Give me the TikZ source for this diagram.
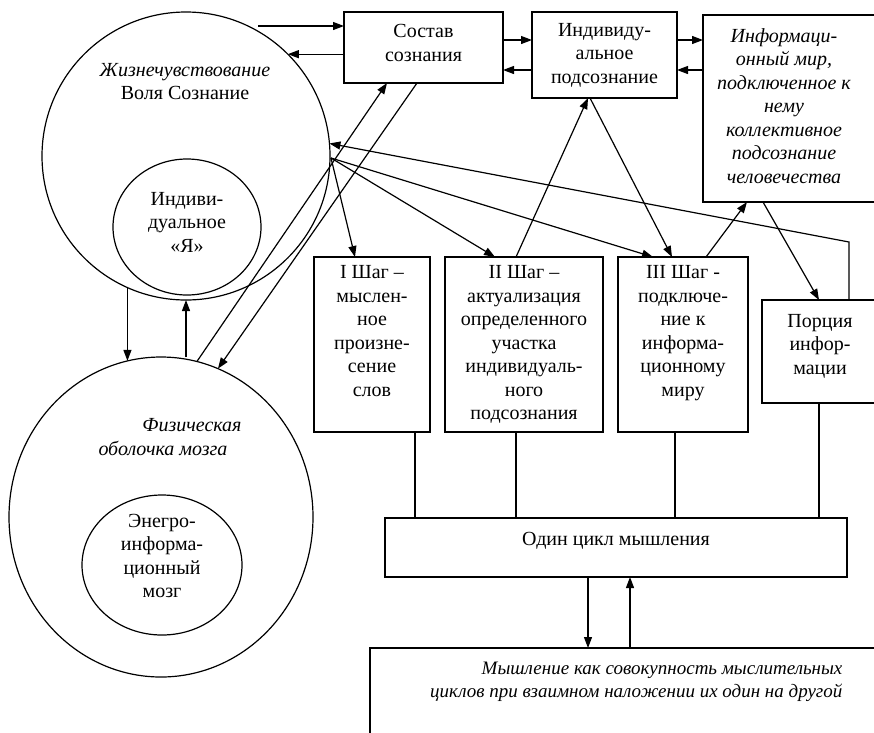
\documentclass[tikz,border=0pt]{standalone}
\usepackage{fontspec}
\setmainfont{Liberation Serif}
\usetikzlibrary{arrows.meta,shapes.geometric}
\begin{document}
\begin{tikzpicture}[x=1pt,y=-1pt,
  line width=1.2pt,
  arr/.style={-{Triangle[length=11pt,width=8pt]}},
  box/.style={draw, rectangle, inner sep=0pt, outer sep=0pt},
  txt/.style={font=\fontsize{20}{23.5}\selectfont, align=center, inner sep=0pt},
  itxt/.style={txt, font=\fontsize{20}{23.5}\selectfont\itshape},
  ring/.style={draw, inner sep=0pt, outer sep=0pt}
]
\useasboundingbox (0,0) rectangle (874,732);
\clip (0,0) rectangle (874,732);

% circles
\node[ring, circle, minimum size=288pt] (c1) at (186,156) {};
\node[ring, ellipse, minimum width=148pt, minimum height=136pt] (c1i) at (187,227) {};
\node[ring, ellipse, minimum width=304pt, minimum height=320pt] (c2) at (161,517) {};
\node[ring, ellipse, minimum width=160pt, minimum height=140pt] (c2i) at (162,565) {};

\node[txt] (t1) at (185,81.5) {\textit{Жизнечувствование}\\Воля Сознание};
\node[txt] (t2) at (187,222) {Индиви-\\дуальное\\«Я»};
\node[itxt] (t3) at (192,425) {Физическая};
\node[itxt] (t4) at (163,448) {оболочка мозга};
\node[txt] (t5) at (162,556) {Энегро-\\информа-\\ционный\\мозг};

% boxes
\node[box, minimum width=159pt, minimum height=71pt] (sostav) at (423.5,47.5) {};
\node[txt] (sostavt) at (423.5,43) {Состав\\сознания};
\node[box, txt, minimum width=145pt, minimum height=86pt] (indiv) at (604.5,55) {Индивиду-\\альное\\подсознание};
\node[box, minimum width=187pt, minimum height=187pt] (inform) at (796.5,108.5) {};
\node[itxt] (informt) at (784,106) {Информаци-\\онный мир,\\подключенное к\\нему\\коллективное\\подсознание\\человечества};

\node[box, minimum width=116pt, minimum height=175pt] (step1) at (372,344.5) {};
\node[txt, anchor=north] (step1t) at (372,265) {I Шаг –\\мыслен-\\ное\\произне-\\сение\\слов};
\node[box, minimum width=158pt, minimum height=175pt] (step2) at (524,344.5) {};
\node[txt, anchor=north] (step2t) at (524,265) {II Шаг –\\актуализация\\определенного\\участка\\индивидуаль-\\ного\\подсознания};
\node[box, minimum width=130pt, minimum height=175pt] (step3) at (683,344.5) {};
\node[txt, anchor=north] (step3t) at (683,265) {III Шаг -\\подключе-\\ние к\\информа-\\ционному\\миру};
\node[box, minimum width=128pt, minimum height=103pt] (portion) at (826,351.5) {};
\node[txt] (portiont) at (820,346) {Порция\\инфор-\\мации};

\node[box, minimum width=462pt, minimum height=59pt] (cycle) at (616,547.5) {};
\node[txt] (cyclet) at (616,541) {Один цикл мышления};

\node[box, minimum width=520pt, minimum height=112pt] (think) at (630,704) {};
\node[itxt, font=\fontsize{19}{23}\selectfont\itshape, align=right, anchor=east] (thinkt) at (843,681.5) {Мышление как совокупность мыслительных\\циклов при взаимном наложении их один на другой};

% connectors
\coordinate (a1) at (258,26);
\draw[arr] (a1) -- (a1 -| sostav.west);
\draw[arr] (sostav.west |- c1.45) -- (c1.45);
\draw[arr] (sostav.east |- 0,40) -- (indiv.west |- 0,40);
\draw[arr] (indiv.west |- 0,70) -- (sostav.east |- 0,70);
\draw[arr] (indiv.east |- 0,40) -- (inform.west |- 0,40);
\draw[arr] (inform.west |- 0,70) -- (indiv.east |- 0,70);

\coordinate (hub) at (331,158);
\draw[arr] (hub) -- (step1.north -| 355,0);
\draw[arr] (hub) -- (step2.north -| 495,0);
\draw[arr] (hub) -- (step3.north -| 653,0);
\coordinate (bend1) at (849,242);
\draw[arr] (portion.north -| bend1) -- (bend1) -- (c1.5);

\draw[arr] (c2.77) -- (sostav.south -| 387,0);
\draw[arr] (sostav.south -| 417,0) -- (c2.69);
\draw[arr] (c1.-114) -- (c1.-114 |- c2.102);
\draw[arr] (c2.north -| c1.south) -- (c1.south);

\draw[arr] (step2.north -| 516,0) -- (indiv.south -| 588,0);
\draw[arr] (indiv.south -| 590,0) -- (step3.north -| 672,0);
\draw[arr] (step3.north -| 706,0) -- (inform.south -| 747,0);
\draw[arr] (inform.south -| 763,0) -- (portion.north -| 819,0);

\draw (step1.south -| 415,0) -- (cycle.north -| 415,0);
\draw (step2.south -| 516,0) -- (cycle.north -| 516,0);
\draw (step3.south -| 675,0) -- (cycle.north -| 675,0);
\draw (portion.south -| 819,0) -- (cycle.north -| 819,0);
\draw[arr] (cycle.south -| 588,0) -- (think.north -| 588,0);
\draw[arr] (think.north -| 630,0) -- (cycle.south -| 630,0);
\end{tikzpicture}
\end{document}
